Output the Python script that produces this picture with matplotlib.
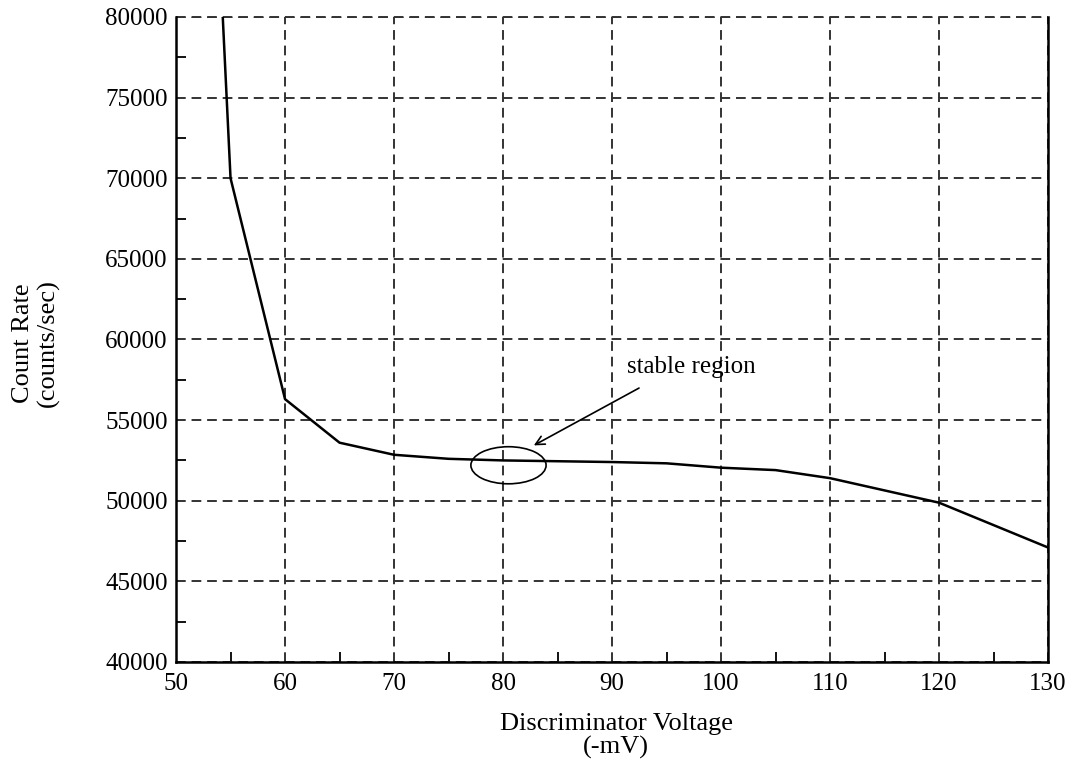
import matplotlib
matplotlib.use("Agg")
import matplotlib.pyplot as plt
from matplotlib.patches import Ellipse

# discriminator plateau curve
volts = [54, 55, 60, 65, 70, 75, 80, 90, 95, 100, 105, 110, 120, 130]
rate = [84000, 70000, 56300, 53600, 52850, 52600, 52500, 52400, 52320,
        52050, 51900, 51400, 49880, 47100]
x_ticks = [50, 60, 70, 80, 90, 100, 110, 120, 130]
y_ticks = [40000, 45000, 50000, 55000, 60000, 65000, 70000, 75000, 80000]

plt.rcParams["font.family"] = ["Liberation Serif", "DejaVu Serif"]

fig = plt.figure(figsize=(10.78, 7.61), dpi=100)
ax = fig.add_axes([0.1633, 0.1301, 0.8089, 0.8476])

ax.plot(volts, rate, color="black", lw=1.8, zorder=3)
ax.set_xlim(50, 130)
ax.set_ylim(40000, 80000)
ax.set_xticks(x_ticks)
ax.set_yticks(y_ticks)
ax.set_xticks(range(55, 130, 10), minor=True)
ax.set_yticks(range(42500, 80000, 5000), minor=True)
ax.tick_params(which="both", direction="in", labelsize=18, color="black")
ax.tick_params(which="major", length=0)
ax.tick_params(axis="x", which="major", pad=8)
ax.tick_params(axis="y", which="major", pad=6)
ax.tick_params(which="minor", length=7, width=1.3)
ax.grid(True, which="major", ls=(0, (5, 3)), color="#333333", lw=1.4)

for s in ("left", "bottom", "right"):
    ax.spines[s].set_linewidth(1.8)
ax.spines["top"].set_visible(False)
ax.axhline(80000, ls=(0, (5, 3)), color="#333333", lw=1.4, clip_on=False)

# axis titles placed like the original scan
fig.text(616 / 1078, 1 - 736 / 761, "Discriminator Voltage\n(-mV)", fontsize=19,
         ha="center", va="center", linespacing=1.1)
fig.text(36 / 1078, 1 - 343 / 761, "Count Rate\n(counts/sec)", fontsize=19,
         ha="center", va="center", rotation=90, linespacing=1.18)

# stable region marker
ax.add_patch(Ellipse((80.5, 52200), 6.9, 2300, fill=False, ec="black", lw=1.2, zorder=4))
ax.annotate("", xy=(82.6, 53350), xytext=(92.7, 57070),
            arrowprops=dict(arrowstyle="->", color="black", lw=1.2, mutation_scale=16))
ax.text(97.3, 58300, "stable region", fontsize=18, ha="center", va="center")

fig.savefig("out.png", dpi=100)
